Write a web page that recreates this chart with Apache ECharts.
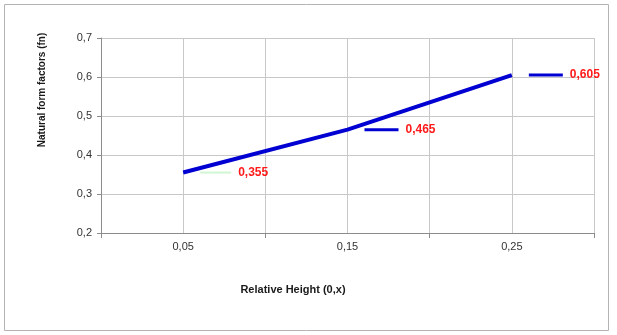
<!DOCTYPE html>
<html lang="en">
<head>
    <meta charset="UTF-8">
    <title>Natural form factors</title>
    <script src="https://cdn.jsdelivr.net/npm/echarts@6/dist/echarts.min.js"></script>
    <style>
        html, body { margin: 0; padding: 0; background: #fff; }
        #main { width: 617px; height: 335px; }
    </style>
</head>
<body>
<div id="main"></div>
<script type="text/javascript">
    // relative height (x) and natural form factor values
    var heights = [0.05, 0.15, 0.25];
    var formFactors = [0.355, 0.465, 0.605];
    var xTickLabels = ['0,05', '0,15', '0,25'];
    var yTicks = [0.2, 0.3, 0.4, 0.5, 0.6, 0.7];

    function comma(v, d) {
        return v.toFixed(d).replace('.', ',');
    }

    var myChart = echarts.init(document.getElementById('main'));

    var option = {
        textStyle: { fontFamily: 'Liberation Sans, Arial, sans-serif' },
        animation: false,
        grid: { left: 101, right: 23, top: 38, bottom: 102 },
        graphic: [
            {
                type: 'rect',
                shape: { x: 4.5, y: 4.5, width: 604, height: 326 },
                style: { fill: 'none', stroke: '#b4b4b4', lineWidth: 1 }
            },
            {
                type: 'text',
                x: 42, y: 90,
                rotation: Math.PI / 2,
                style: {
                    text: 'Natural form factors (fn)',
                    x: 0, y: 0,
                    align: 'center', verticalAlign: 'middle',
                    fontSize: 10, fontWeight: 'bold', fill: '#1a1a1a',
                    fontFamily: 'Liberation Sans, Arial, sans-serif'
                }
            },
            {
                type: 'text',
                x: 293, y: 290,
                style: {
                    text: 'Relative Height (0,x)',
                    x: 0, y: 0,
                    align: 'center', verticalAlign: 'middle',
                    fontSize: 11, fontWeight: 'bold', fill: '#1a1a1a',
                    fontFamily: 'Liberation Sans, Arial, sans-serif'
                }
            }
        ],
        xAxis: [
            {
                type: 'value',
                position: 'bottom',
                min: 0,
                max: 0.3,
                interval: 0.05,
                axisLine: { show: true, lineStyle: { color: '#8c8c8c', width: 1 } },
                axisTick: { show: false },
                axisLabel: {
                    color: '#333',
                    fontSize: 11,
                    margin: 8,
                    showMinLabel: true,
                    showMaxLabel: true,
                    formatter: function (v) {
                        for (var i = 0; i < heights.length; i++) {
                            if (Math.abs(v - heights[i]) < 1e-6) return xTickLabels[i];
                        }
                        return '';
                    }
                },
                splitLine: { show: true, lineStyle: { color: '#c8c8c8', width: 1 } }
            },
            {
                // category boundaries: tick marks only
                type: 'value',
                position: 'bottom',
                min: 0,
                max: 0.3,
                interval: 0.1,
                axisLine: { show: false },
                axisTick: { show: true, length: 5, lineStyle: { color: '#8c8c8c' } },
                axisLabel: { show: false },
                splitLine: { show: false }
            }
        ],
        yAxis: {
            type: 'value',
            min: yTicks[0],
            max: yTicks[yTicks.length - 1],
            interval: 0.1,
            axisLine: { show: true, lineStyle: { color: '#8c8c8c', width: 1 } },
            axisTick: { show: true, length: 4, lineStyle: { color: '#8c8c8c' } },
            axisLabel: {
                color: '#333',
                fontSize: 11,
                margin: 9,
                formatter: function (v) { return comma(v, 1); }
            },
            splitLine: { show: true, lineStyle: { color: '#c8c8c8', width: 1 } }
        },
        series: [
            {
                type: 'line',
                xAxisIndex: 0,
                data: heights.map(function (h, i) { return [h, formFactors[i]]; }),
                symbol: 'circle',
                symbolSize: 0,
                lineStyle: { color: '#0000d2', width: 4 },
                itemStyle: { color: '#0000d2' },
                label: {
                    show: true,
                    position: 'right',
                    distance: 17,
                    formatter: function (p) {
                        var key = p.dataIndex === 0 ? '{g|}' : '{b|}';
                        return key + '{v|' + comma(p.value[1], 3) + '}';
                    },
                    rich: {
                        g: { width: 31, height: 2, backgroundColor: '#d2f5d2' },
                        b: { width: 34, height: 3, backgroundColor: '#0000d2' },
                        v: {
                            color: '#ff1a1a',
                            fontWeight: 'bold',
                            fontSize: 12,
                            padding: [0, 0, 0, 7],
                            fontFamily: 'Liberation Sans, Arial, sans-serif'
                        }
                    }
                }
            }
        ]
    };
    myChart.setOption(option);
</script>
</body>
</html>
